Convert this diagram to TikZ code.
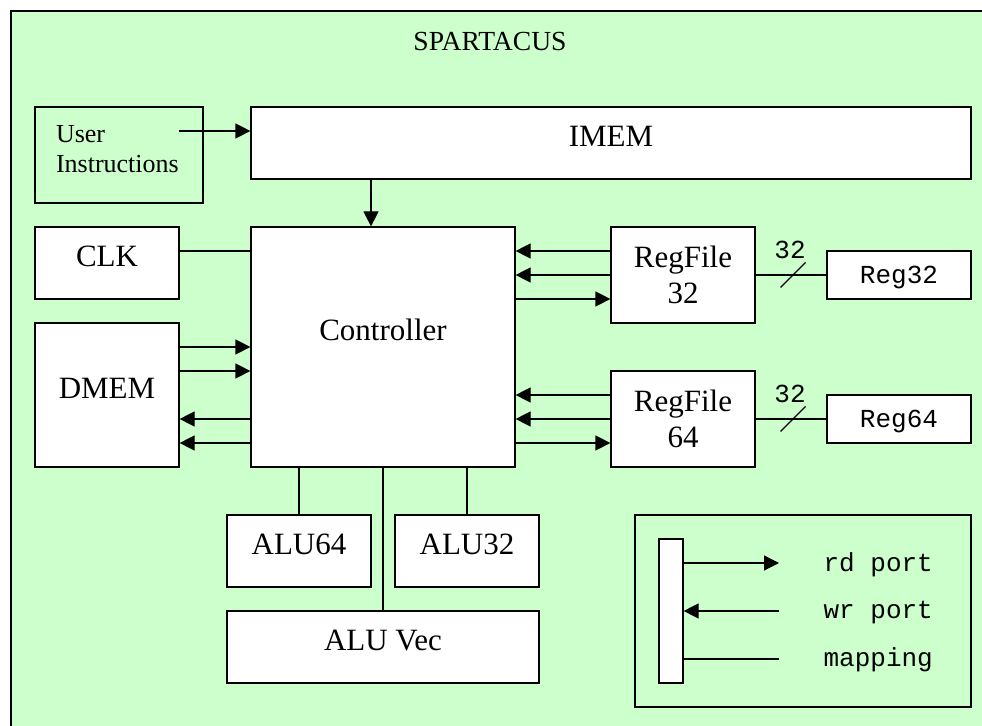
\documentclass[tikz,border=0pt]{standalone}
\usepackage{fontspec}
\setmainfont{Liberation Serif}
\setmonofont{Liberation Mono}
\usetikzlibrary{arrows.meta,calc,positioning}
\definecolor{SpartGreen}{RGB}{204,255,204}

\begin{document}
\begin{tikzpicture}[x=0.5pt,y=-0.5pt,>={Triangle[length=7.5pt,width=7.5pt]},line width=0.6pt,
    blk/.style={draw,fill=white,inner sep=0pt,font=\fontsize{15.5}{18}\selectfont},
    cell/.style={blk,text height=10.5pt,text depth=6.5pt},
    mono/.style={inner sep=0pt,font=\ttfamily\fontsize{13}{15}\selectfont},
    reg/.style={draw,fill=white,mono,minimum width=72pt,minimum height=24pt,text depth=0pt}]
  \useasboundingbox (0,0) rectangle (982,726);
  \fill[SpartGreen] (11,11) rectangle (982,726);
  \draw[line width=0.75pt] (982,11) -- (11,11) -- (11,726);
  \node[anchor=base,font=\fontsize{13.8}{16}\selectfont] (title) at (490,51) {SPARTACUS};
  % blocks
  \node[draw,inner xsep=10.5pt,minimum width=84pt,minimum height=48pt,text width=63pt,
    align=left,text depth=21.5pt,font=\fontsize{13}{15}\selectfont] (user) at (119,155) {User\\Instructions};
  \node[cell,minimum width=360pt,minimum height=36pt] (imem) at (611,143) {IMEM};
  \node[cell,minimum width=72pt,minimum height=36pt] (clk) at (107,263) {CLK};
  \node[cell,minimum width=132pt,minimum height=120pt,text depth=16.5pt] (ctrl) at (383,347) {Controller};
  \node[cell,minimum width=72pt,minimum height=72pt] (dmem) at (107,395) {DMEM};
  \node[blk,align=center,minimum width=72pt,minimum height=48pt] (rf32) at (683,275) {RegFile\\32};
  \node[blk,align=center,minimum width=72pt,minimum height=48pt] (rf64) at (683,419) {RegFile\\64};
  \node[reg] (reg32) at (899,275) {Reg32};
  \node[reg] (reg64) at (899,419) {Reg64};
  \node[cell,minimum width=72pt,minimum height=36pt] (alu64) at (299,551) {ALU64};
  \node[cell,minimum width=72pt,minimum height=36pt] (alu32) at (467,551) {ALU32};
  \node[cell,minimum width=156pt,minimum height=36pt] (aluvec) at (383,647) {ALU Vec};
  % connections
  \coordinate (uin) at (179,131);
  \draw[->] (uin) -- (imem.west |- uin);
  \draw[->] (imem.south -| 371,0) -- (ctrl.north -| 371,0);
  \draw (clk.east |- 0,251) -- (ctrl.west |- 0,251);
  \foreach \y in {347,371} \draw[->] (dmem.east |- 0,\y) -- (ctrl.west |- 0,\y);
  \foreach \y in {419,443} \draw[<-] (dmem.east |- 0,\y) -- (ctrl.west |- 0,\y);
  \foreach \y in {251,275} \draw[->] (rf32.west |- 0,\y) -- (ctrl.east |- 0,\y);
  \draw[->] (ctrl.east |- 0,299) -- (rf32.west |- 0,299);
  \foreach \y in {395,419} \draw[->] (rf64.west |- 0,\y) -- (ctrl.east |- 0,\y);
  \draw[->] (ctrl.east |- 0,443) -- (rf64.west |- 0,443);
  \draw (ctrl.south -| alu64.north) -- (alu64.north);
  \draw (ctrl.south -| alu32.north) -- (alu32.north);
  \draw (ctrl.south -| aluvec.north) -- (aluvec.north);
  % 32-bit buses
  \draw (rf32.east) -- (reg32.west);
  \draw (rf64.east) -- (reg64.west);
  \foreach \n/\y in {32/275,64/419} {
    \draw (793,\y) +(-12.5,12.5) -- +(12.5,-12.5);
    \node[mono,anchor=base] (w\n) at (790,\y-16) {32};
  }
  % legend
  \node[draw,fill=SpartGreen,minimum width=168pt,minimum height=96pt] (key) at (803,611) {};
  \node[draw,fill=white,minimum width=12pt,minimum height=72pt] (bar) at (671,611) {};
  \node[mono,anchor=base west] (rdk) at (823,572) {rd port};
  \node[mono,anchor=base west] (wrk) at (823,619) {wr port};
  \node[mono,anchor=base west] (mapk) at (823,667) {mapping};
  \coordinate (rdend) at (779,563);
  \coordinate (wrend) at (779,611);
  \coordinate (mapend) at (779,659);
  \draw[->] (bar.east |- rdend) -- (rdend);
  \draw[<-] (bar.east |- wrend) -- (wrend);
  \draw (bar.east |- mapend) -- (mapend);
\end{tikzpicture}
\end{document}
